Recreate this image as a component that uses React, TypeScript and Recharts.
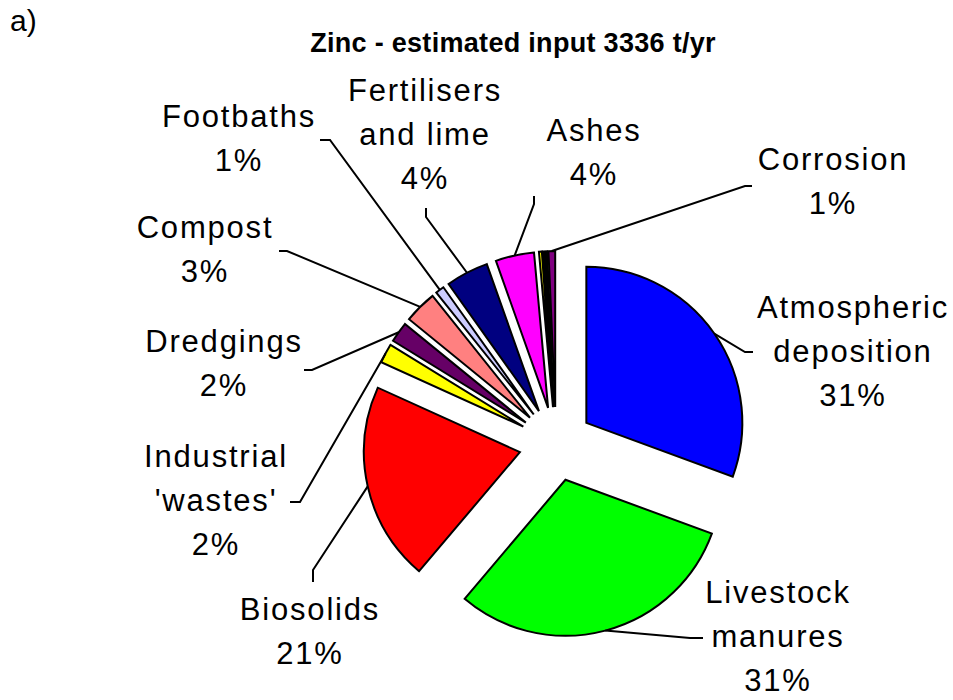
import React from 'react';
import { PieChart, Pie, Cell, Sector } from 'recharts';

// zinc inputs, t/yr (total 3336)
const SOURCES = [
  'Atmospheric deposition', 'Livestock manures', 'Biosolids', "Industrial 'wastes'",
  'Dredgings', 'Compost', 'Footbaths', 'Fertilisers and lime', 'Ashes',
  'Other (a)', 'Other (b)', 'Corrosion',
];
const INPUTS = [1021, 1020, 687, 67, 70, 113, 30, 147, 133, 10, 15, 23];
const COLORS = [
  '#0000ff', '#00ff00', '#ff0000', '#ffff00', '#660066', '#ff8080',
  '#ccccff', '#000080', '#ff00ff', '#ffff00', '#000000', '#800080',
];
const LABEL_LINES: (string[] | null)[] = [
  ['Atmospheric', 'deposition'], ['Livestock', 'manures'], ['Biosolids'], ['Industrial', "'wastes'"],
  ['Dredgings'], ['Compost'], ['Footbaths'], ['Fertilisers', 'and lime'], ['Ashes'],
  null, null, ['Corrosion'],
];

const data = SOURCES.map((name, i) => ({ name, value: INPUTS[i] }));

// label placement (text centre x, first baseline y, leader elbow, leader end)
const LABEL_POS: ({ x: number; y: number; elbow: number[]; tail: number[] } | null)[] = [
  { x: 853, y: 318, elbow: [745, 352], tail: [753, 352] },
  { x: 778, y: 603, elbow: [690, 638], tail: [703, 638] },
  { x: 310, y: 620, elbow: [313, 570], tail: [313, 582] },
  { x: 216, y: 467, elbow: [300, 502], tail: [290, 502] },
  { x: 224, y: 352, elbow: [312, 370], tail: [304, 370] },
  { x: 205, y: 238, elbow: [287, 251], tail: [279, 251] },
  { x: 239, y: 127, elbow: [330, 140], tail: [320, 140] },
  { x: 425, y: 101, elbow: [426, 217], tail: [426, 208] },
  { x: 594, y: 141, elbow: [534, 204], tail: [534, 196] },
  null,
  null,
  { x: 833, y: 170, elbow: [745, 186], tail: [752, 186] },
];

const RAD = Math.PI / 180;
const EXPLODE = 37;
const FONT = "'Liberation Sans', Arial, sans-serif";
const LINE_H = 44;

const ExplodedSector = (props: any) => {
  const { cx, cy, midAngle } = props;
  const dx = EXPLODE * Math.cos(-midAngle * RAD);
  const dy = EXPLODE * Math.sin(-midAngle * RAD);
  return <Sector {...props} cx={cx + dx} cy={cy + dy} />;
};

const renderLabel = (props: any) => {
  const { cx, cy, midAngle, outerRadius, percent, index } = props;
  const pos = LABEL_POS[index];
  const lines = LABEL_LINES[index];
  if (!pos || !lines) return null;
  const r = outerRadius + EXPLODE;
  const px = cx + r * Math.cos(-midAngle * RAD);
  const py = cy + r * Math.sin(-midAngle * RAD);
  const all = [...lines, `${Math.round(percent * 100)}%`];
  return (
    <g key={`lbl-${index}`}>
      <path
        d={`M${px},${py}L${pos.elbow[0]},${pos.elbow[1]}L${pos.tail[0]},${pos.tail[1]}`}
        fill="none" stroke="#000" strokeWidth={2}
      />
      <text textAnchor="middle" fontFamily={FONT} fontSize={31} letterSpacing={1.8} fill="#000">
        {all.map((t, i) => (
          <tspan key={i} x={pos.x} y={pos.y + i * LINE_H}>{t}</tspan>
        ))}
      </text>
    </g>
  );
};

export default function App() {
  return (
    <div style={{ position: 'absolute', left: 0, top: 0, width: 953, height: 700, background: '#fff' }}>
      <PieChart width={953} height={700} margin={{ top: 0, right: 0, bottom: 0, left: 0 }}>
        <text x={10} y={31} fontFamily={FONT} fontSize={30} fill="#000">a)</text>
        <text x={513} y={52} textAnchor="middle" fontFamily={FONT} fontSize={27} fontWeight="bold" letterSpacing={0.3} fill="#000">
          Zinc - estimated input 3336 t/yr
        </text>
        <Pie
          data={data}
          dataKey="value"
          nameKey="name"
          cx={556}
          cy={444}
          outerRadius={156}
          startAngle={90}
          endAngle={-270}
          stroke="#000"
          strokeWidth={2}
          isAnimationActive={false}
          labelLine={false}
          label={renderLabel}
          shape={ExplodedSector}
          activeShape={ExplodedSector}
          inactiveShape={ExplodedSector}
        >
          {data.map((_, i) => <Cell key={i} fill={COLORS[i]} />)}
        </Pie>
      </PieChart>
    </div>
  );
}
